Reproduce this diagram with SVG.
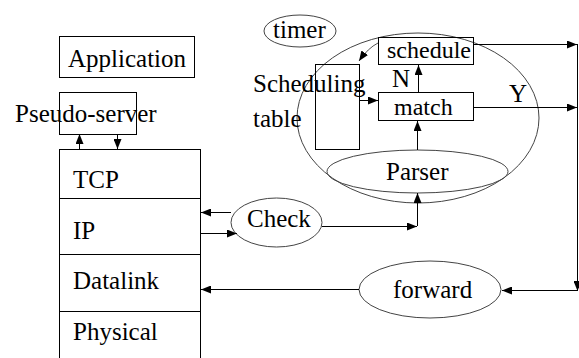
<svg xmlns="http://www.w3.org/2000/svg" width="579" height="358" viewBox="0 0 579 358">
<defs>
<marker id="ah" markerUnits="userSpaceOnUse" markerWidth="10" markerHeight="8" refX="10" refY="4" orient="auto">
<path d="M0,0 L10,4 L0,8 Z" fill="#000" stroke="none"/>
</marker>
</defs>
<rect width="579" height="358" fill="#fff"/>
<g id="application"><rect fill="none" stroke="#000" x="59.5" y="36.5" width="135" height="41"/><text style="font-family:'Liberation Serif';font-size:25px" x="68" y="67">Application</text></g>
<g id="pseudo-server"><rect fill="none" stroke="#000" x="59.5" y="92.5" width="77" height="42"/><text style="font-family:'Liberation Serif';font-size:25px" x="15" y="122">Pseudo-server</text></g>
<g id="stack">
<g fill="none" stroke="#000">
<rect x="59.5" y="149.5" width="141" height="220"/>
<line x1="59.5" y1="198.5" x2="200.5" y2="198.5"/>
<line x1="59.5" y1="254.5" x2="200.5" y2="254.5"/>
<line x1="59.5" y1="311.5" x2="200.5" y2="311.5"/>
</g>
<text style="font-family:'Liberation Serif';font-size:25px" x="73" y="188">TCP</text>
<text style="font-family:'Liberation Serif';font-size:25px" x="73" y="239">IP</text>
<text style="font-family:'Liberation Serif';font-size:25px" x="73" y="289">Datalink</text>
<text style="font-family:'Liberation Serif';font-size:25px" x="73" y="340">Physical</text>
</g>
<g id="timer"><ellipse fill="none" stroke="#444" cx="300" cy="31" rx="36" ry="16"/><text style="font-family:'Liberation Serif';font-size:25px" x="273" y="38">timer</text></g>
<g id="scheduler"><ellipse fill="none" stroke="#444" cx="418" cy="118" rx="121" ry="85"/></g>
<g id="scheduling-table"><rect fill="none" stroke="#000" x="315.5" y="64.5" width="44" height="85"/><text style="font-family:'Liberation Serif';font-size:25px" x="253" y="92">Scheduling</text><text style="font-family:'Liberation Serif';font-size:25px" x="253" y="127">table</text></g>
<g id="schedule"><rect fill="none" stroke="#000" x="378.5" y="37.5" width="95" height="27"/><text style="font-family:'Liberation Serif';font-size:24px" x="387" y="58">schedule</text></g>
<g id="match"><rect fill="none" stroke="#000" x="378.5" y="92.5" width="95" height="28"/><text style="font-family:'Liberation Serif';font-size:24px" x="394" y="115">match</text></g>
<g id="parser"><ellipse fill="none" stroke="#444" cx="417.5" cy="171.5" rx="90.5" ry="21.5"/><text style="font-family:'Liberation Serif';font-size:25px" x="386" y="180">Parser</text></g>
<g id="check"><ellipse fill="none" stroke="#444" cx="276.5" cy="222.5" rx="45.5" ry="24.5"/><text style="font-family:'Liberation Serif';font-size:25px" x="247" y="227">Check</text></g>
<g id="forward"><ellipse fill="none" stroke="#444" cx="430" cy="289.5" rx="71" ry="28.5"/><text style="font-family:'Liberation Serif';font-size:25px" x="393" y="298">forward</text></g>
<g id="connectors">
<g fill="none" stroke="#000">
<line x1="79.5" y1="149" x2="79.5" y2="134" marker-end="url(#ah)"/>
<line x1="117.5" y1="135" x2="117.5" y2="149" marker-end="url(#ah)"/>
<line x1="231" y1="212.5" x2="201" y2="212.5" marker-end="url(#ah)"/>
<line x1="201" y1="233.5" x2="237" y2="233.5" marker-end="url(#ah)"/>
<line x1="322" y1="226.5" x2="417" y2="226.5" marker-end="url(#ah)"/>
<line x1="417.5" y1="226" x2="417.5" y2="193" marker-end="url(#ah)"/>
<line x1="417.5" y1="150" x2="417.5" y2="121" marker-end="url(#ah)"/>
<line x1="418.5" y1="92" x2="418.5" y2="65" marker-end="url(#ah)"/>
<line x1="360" y1="100.5" x2="378" y2="100.5" marker-end="url(#ah)"/>
<path stroke="#555" d="M378,43 Q368,48 359,61" marker-end="url(#ah)"/>
<line x1="474" y1="44.5" x2="577" y2="44.5" marker-end="url(#ah)"/>
<line x1="474" y1="107.5" x2="577" y2="107.5" marker-end="url(#ah)"/>
<line x1="577.5" y1="44" x2="577.5" y2="291" marker-end="url(#ah)"/>
<line x1="577" y1="290.5" x2="502" y2="290.5" marker-end="url(#ah)"/>
<line x1="359" y1="289.5" x2="201" y2="289.5" marker-end="url(#ah)"/>
</g>
<text style="font-family:'Liberation Serif';font-size:25px" x="392" y="87">N</text>
<text style="font-family:'Liberation Serif';font-size:25px" x="509" y="102">Y</text>
</g>
</svg>
